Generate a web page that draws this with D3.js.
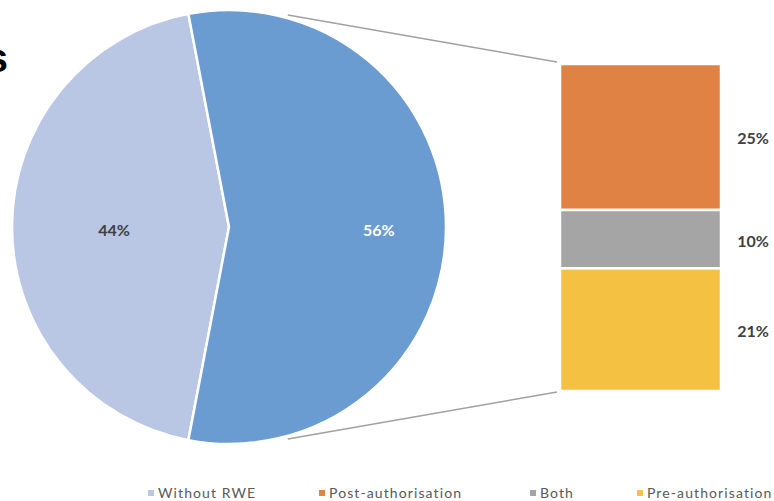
<!DOCTYPE html>
<html lang="en">
<head>
  <meta charset="UTF-8">
  <title>Bar of pie</title>
  <script src="https://d3js.org/d3.v7.min.js"></script>
  <style>
    body { margin: 0; background: #fff; }
  </style>
</head>
<body>
  <svg id="chart" width="774" height="501"></svg>

  <script>
    // data
    const pieLabels = ["Without RWE", "With RWE"];
    const pieValues = [44, 56];
    const barLabels = ["Post-authorisation", "Both", "Pre-authorisation"];
    const barValues = [25, 10, 21];
    const legendLabels = ["Without RWE", "Post-authorisation", "Both", "Pre-authorisation"];

    const pieColors = ["#b9c7e5", "#6a9bd1"];
    const barColors = ["#df8244", "#a5a5a5", "#f4c143"];
    const legendColors = ["#b9c7e5", "#df8244", "#a5a5a5", "#f4c143"];

    const svg = d3.select("#chart");
    const font = "Lato, 'Open Sans', sans-serif";

    // cut-off title letter at the left edge
    svg.append("text")
      .attr("x", 8).attr("y", 72)
      .attr("text-anchor", "end")
      .attr("font-family", "'Liberation Sans', Arial, sans-serif")
      .attr("font-weight", "bold")
      .attr("font-size", 40)
      .attr("fill", "#000")
      .text("s");

    // pie
    const cx = 229, cy = 227, r = 217;
    const a0 = 1.5 * Math.PI - (pieValues[0] / d3.sum(pieValues)) * Math.PI;
    const pie = d3.pie().sort(null).startAngle(a0).endAngle(a0 + 2 * Math.PI);
    const arc = d3.arc().innerRadius(0).outerRadius(r);
    const slices = pie(pieValues);

    const g = svg.append("g").attr("transform", `translate(${cx},${cy})`);
    g.selectAll("path")
      .data(slices)
      .join("path")
      .attr("d", arc)
      .attr("fill", (d, i) => pieColors[i])
      .attr("stroke", "#fff")
      .attr("stroke-width", 2.5)
      .attr("stroke-linejoin", "round");

    // label radius differs per slice, like the excel layout
    const labelR = [0.53, 0.69];
    g.selectAll(".plabel")
      .data(slices)
      .join("text")
      .attr("class", "plabel")
      .attr("x", (d, i) => d3.arc().innerRadius(r * labelR[i]).outerRadius(r * labelR[i]).centroid(d)[0])
      .attr("y", (d, i) => d3.arc().innerRadius(r * labelR[i]).outerRadius(r * labelR[i]).centroid(d)[1] + 9)
      .attr("text-anchor", "middle")
      .attr("font-family", font)
      .attr("font-weight", "bold")
      .attr("font-size", 16)
      .attr("fill", (d, i) => i === 0 ? "#404040" : "#fff")
      .text(d => d.data + "%");

    // stacked bar
    const barX = 560, barW = 161;
    const y = d3.scaleLinear().domain([0, d3.sum(barValues)]).range([64, 391]);
    const stack = [];
    let acc = 0;
    barValues.forEach((v, i) => { stack.push({ v, i, y0: acc, y1: acc + v }); acc += v; });

    svg.selectAll(".bar")
      .data(stack)
      .join("rect")
      .attr("class", "bar")
      .attr("x", barX)
      .attr("width", barW)
      .attr("y", d => y(d.y0))
      .attr("height", d => y(d.y1) - y(d.y0))
      .attr("fill", d => barColors[d.i])
      .attr("stroke", "#fff")
      .attr("stroke-width", 2.5);

    svg.selectAll(".blabel")
      .data(stack)
      .join("text")
      .attr("class", "blabel")
      .attr("x", 753)
      .attr("y", d => (y(d.y0) + y(d.y1)) / 2 + 7.5)
      .attr("text-anchor", "middle")
      .attr("font-family", font)
      .attr("font-weight", "bold")
      .attr("font-size", 16)
      .attr("fill", "#404040")
      .text(d => d.v + "%");

    // connector lines
    const ang = 15.5 * Math.PI / 180, rr = r + 3;
    const lines = [
      [cx + rr * Math.sin(ang), cy - rr * Math.cos(ang), barX - 3, y(0) - 2],
      [cx + rr * Math.sin(ang), cy + rr * Math.cos(ang), barX - 3, y(d3.sum(barValues)) + 1]
    ];
    svg.selectAll(".conn")
      .data(lines)
      .join("line")
      .attr("class", "conn")
      .attr("x1", d => d[0]).attr("y1", d => d[1])
      .attr("x2", d => d[2]).attr("y2", d => d[3])
      .attr("stroke", "#a0a0a0")
      .attr("stroke-width", 1.5);

    // legend
    const legendX = [148, 319, 530, 637];
    const lg = svg.selectAll(".leg")
      .data(legendLabels)
      .join("g")
      .attr("class", "leg")
      .attr("transform", (d, i) => `translate(${legendX[i]},493)`);
    lg.append("rect")
      .attr("x", 0).attr("y", -3)
      .attr("width", 6).attr("height", 6)
      .attr("fill", (d, i) => legendColors[i]);
    lg.append("text")
      .attr("x", 10).attr("y", 5)
      .attr("font-family", font)
      .attr("font-size", 14)
      .attr("letter-spacing", 1.1)
      .attr("fill", "#595959")
      .text(d => d);
  </script>
</body>
</html>
